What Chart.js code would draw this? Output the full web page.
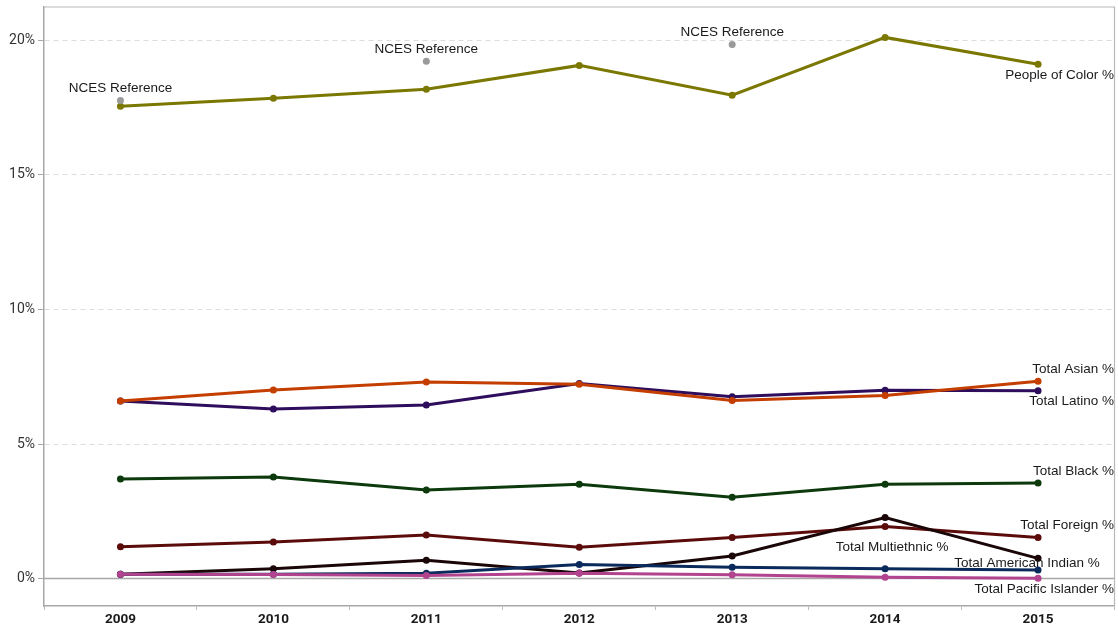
<!DOCTYPE html>
<html>
<head>
<meta charset="utf-8">
<script src="https://cdn.jsdelivr.net/npm/chart.js@4/dist/chart.umd.min.js"></script>
<style>
  html, body { margin: 0; padding: 0; background: #fff; }
  #wrap { width: 1118px; height: 628px; position: relative; }
</style>
</head>
<body>
<div id="wrap"><canvas id="chart" width="1118" height="628"></canvas></div>
<script>
// School years on the x axis
const years = ['2009', '2010', '2011', '2012', '2013', '2014', '2015'];

// Share of enrolment by group, in percent
const peopleOfColor   = [17.55, 17.85, 18.18, 19.07, 17.96, 20.11, 19.11];
const ncesReference   = [17.77, null, 19.22, null, 19.85, null, null];
const totalAsian      = [6.60, 7.01, 7.30, 7.22, 6.62, 6.80, 7.33];
const totalLatino     = [6.60, 6.30, 6.45, 7.25, 6.76, 7.00, 6.98];
const totalBlack      = [3.70, 3.77, 3.29, 3.50, 3.02, 3.50, 3.55];
const totalForeign    = [1.18, 1.36, 1.62, 1.16, 1.53, 1.93, 1.53];
const totalMultiethnic = [0.16, 0.36, 0.68, 0.21, 0.84, 2.27, 0.75];
const totalAmIndian   = [0.16, 0.16, 0.20, 0.52, 0.42, 0.36, 0.32];
const totalPacific    = [0.16, 0.15, 0.11, 0.20, 0.14, 0.05, 0.01];

// Y axis tick values shown
const yTickValues = [0, 5, 10, 15, 20];

const seriesNames = {
  poc: 'People of Color %',
  nces: 'NCES Reference',
  asian: 'Total Asian %',
  latino: 'Total Latino %',
  black: 'Total Black %',
  foreign: 'Total Foreign %',
  multi: 'Total Multiethnic %',
  amind: 'Total American Indian %',
  pacific: 'Total Pacific Islander %'
};

function lineSet(label, data, color) {
  return {
    label, data,
    borderColor: color,
    backgroundColor: color,
    borderWidth: 3,
    pointRadius: 3.5,
    pointHoverRadius: 3.5,
    pointBorderWidth: 0,
    tension: 0
  };
}

const datasets = [
  Object.assign(lineSet(seriesNames.nces, ncesReference, '#9a9a9a'), { showLine: false, spanGaps: false }),
  lineSet(seriesNames.poc, peopleOfColor, '#7a7800'),
  lineSet(seriesNames.asian, totalAsian, '#c43e00'),
  lineSet(seriesNames.latino, totalLatino, '#2e0d5c'),
  lineSet(seriesNames.pacific, totalPacific, '#b2438e'),
  lineSet(seriesNames.amind, totalAmIndian, '#0b2a5c'),
  lineSet(seriesNames.multi, totalMultiethnic, '#1a0606'),
  lineSet(seriesNames.foreign, totalForeign, '#5c0b0b'),
  lineSet(seriesNames.black, totalBlack, '#0c3a0c')
];

// Text callouts attached to points: [dataset label, point index, dx, dy, align, text]
const callouts = [
  [seriesNames.nces, 0, 0, -12, 'center', seriesNames.nces],
  [seriesNames.nces, 2, 0, -12, 'center', seriesNames.nces],
  [seriesNames.nces, 4, 0, -12, 'center', seriesNames.nces],
  [seriesNames.poc, 6, 76, 11, 'right', seriesNames.poc],
  [seriesNames.asian, 6, 76, -12, 'right', seriesNames.asian],
  [seriesNames.latino, 6, 76, 11, 'right', seriesNames.latino],
  [seriesNames.black, 6, 76, -12, 'right', seriesNames.black],
  [seriesNames.foreign, 6, 76, -12, 'right', seriesNames.foreign],
  [seriesNames.multi, 5, 7, 30, 'center', seriesNames.multi],
  [seriesNames.amind, 6, -11, -7, 'center', seriesNames.amind],
  [seriesNames.pacific, 6, 76, 11, 'right', seriesNames.pacific]
];

const LABEL_FONT = '13.5px "Liberation Sans", Arial, sans-serif';

const framePlugin = {
  id: 'frame',
  beforeDatasetsDraw(chart) {
    const { ctx, chartArea: a, scales: { y } } = chart;
    ctx.save();
    // solid zero baseline
    const y0 = y.getPixelForValue(0);
    ctx.strokeStyle = '#a8a8a8';
    ctx.lineWidth = 1.5;
    ctx.beginPath();
    ctx.moveTo(a.left, y0);
    ctx.lineTo(a.right, y0);
    ctx.stroke();
    // top and right frame
    ctx.strokeStyle = '#b8b8b8';
    ctx.lineWidth = 1.2;
    ctx.beginPath();
    ctx.moveTo(a.left, a.top);
    ctx.lineTo(a.right, a.top);
    ctx.lineTo(a.right, a.bottom);
    ctx.stroke();
    ctx.restore();
  }
};

const calloutPlugin = {
  id: 'callouts',
  afterDatasetsDraw(chart) {
    const { ctx } = chart;
    ctx.save();
    ctx.font = LABEL_FONT;
    ctx.fillStyle = '#1a1a1a';
    ctx.textBaseline = 'middle';
    callouts.forEach(([series, idx, dx, dy, align, text]) => {
      const di = chart.data.datasets.findIndex(d => d.label === series);
      const pt = chart.getDatasetMeta(di).data[idx];
      if (!pt) return;
      ctx.textAlign = align;
      ctx.fillText(text, pt.x + dx, pt.y + dy);
    });
    ctx.restore();
  }
};

new Chart(document.getElementById('chart'), {
  type: 'line',
  data: { labels: years, datasets },
  options: {
    responsive: false,
    animation: false,
    events: [],
    layout: { padding: { top: 7, right: 1, left: 0, bottom: 0 } },
    plugins: { legend: { display: false }, tooltip: { enabled: false } },
    scales: {
      x: {
        type: 'category',
        offset: true,
        afterFit(s) { s.height = 22; s.paddingLeft = 0; s.paddingRight = 0; },
        grid: { offset: true, drawOnChartArea: false, drawTicks: true, tickLength: 4, color: '#bdbdbd' },
        border: { display: true, color: '#a8a8a8', width: 1.5 },
        ticks: { color: '#1a1a1a', padding: 2, font: { family: 'Roboto', size: 13.5, weight: 'bold' } }
      },
      y: {
        min: -1.02,
        max: 21.24,
        afterFit(s) { s.width = 44; s.paddingTop = 0; s.paddingBottom = 0; },
        afterBuildTicks(s) { s.ticks = yTickValues.map(v => ({ value: v })); },
        grid: {
          color: '#dcdcdc',
          lineWidth: 1,
          tickLength: 6,
          tickColor: '#a8a8a8',
          tickBorderDash: []
        },
        border: { display: true, color: '#a8a8a8', width: 1.5, dash: [5, 4] },
        ticks: {
          color: '#333',
          padding: 3,
          font: { family: 'Roboto', size: 14 },
          callback: v => v + '%'
        }
      }
    }
  },
  plugins: [framePlugin, calloutPlugin]
});
</script>
</body>
</html>
